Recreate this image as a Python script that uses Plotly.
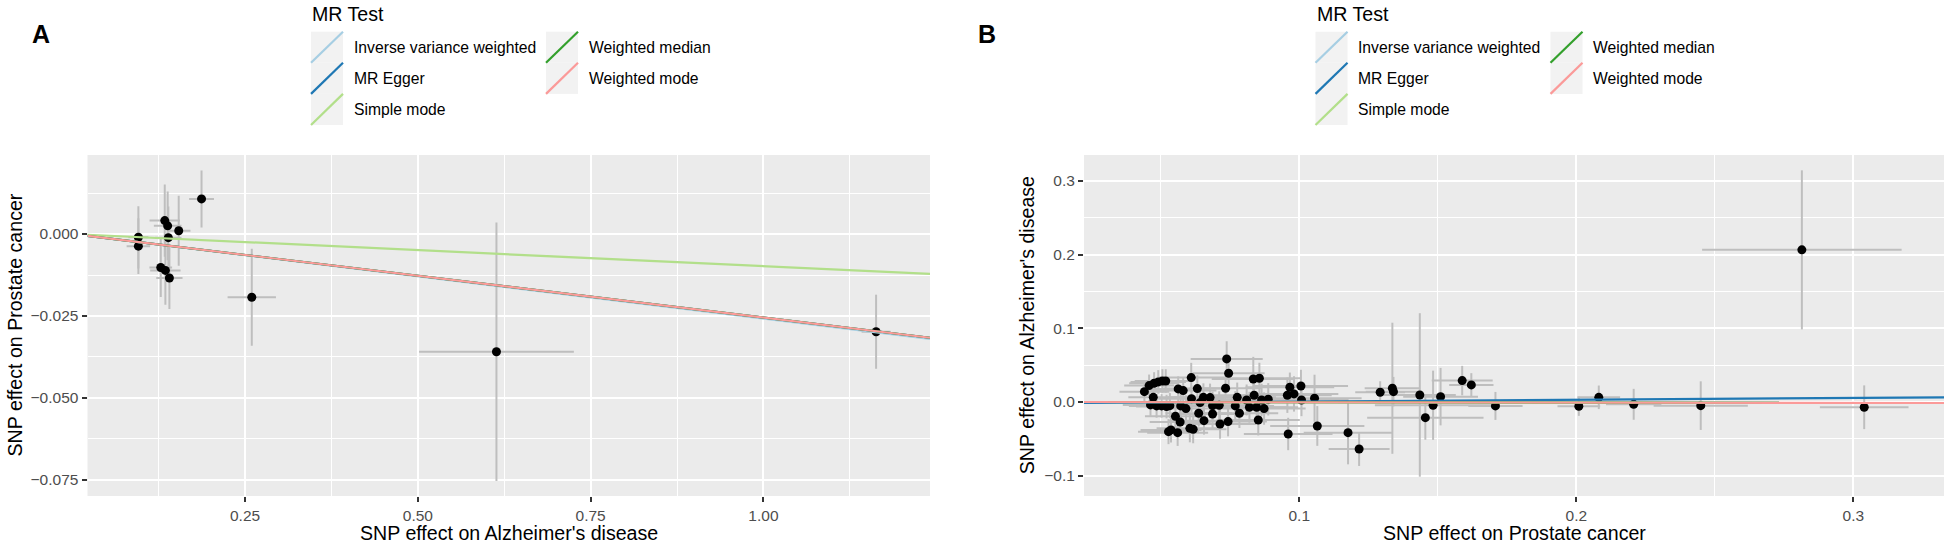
import plotly.graph_objects as go

W, H = 1949, 544

# MR methods (ggplot / TwoSampleMR colours)
methods = ['Inverse variance weighted', 'MR Egger', 'Simple mode', 'Weighted median', 'Weighted mode']
method_colors = ['#a6cee3', '#1f78b4', '#b2df8a', '#33a02c', '#fb9a99']

# Panel A: exposure = Alzheimer's disease, outcome = Prostate cancer
a_beta_exp = [0.0956, 0.0956, 0.1338, 0.1380, 0.1390, 0.1540, 0.1870, 0.1280, 0.1347, 0.1405, 0.2597, 0.6137, 1.1630]
a_beta_out = [-0.0010, -0.0037, 0.0041, 0.0025, -0.0011, 0.0010, 0.0107, -0.0102, -0.0111, -0.0134, -0.0193, -0.0359, -0.0298]
a_se_exp = [0.0145, 0.0170, 0.0220, 0.0200, 0.0190, 0.0170, 0.0180, 0.0164, 0.0220, 0.0190, 0.0350, 0.1120, 0.0210]
a_se_out = [0.0095, 0.0085, 0.0110, 0.0105, 0.0095, 0.0107, 0.0087, 0.0090, 0.0105, 0.0095, 0.0148, 0.0394, 0.0113]
a_intercepts = [0.0, 0.0, 0.0, 0.0, 0.0]
a_slopes = [-0.0258, -0.0255, -0.0098, -0.0255, -0.0255]

# Panel B: exposure = Prostate cancer, outcome = Alzheimer's disease
b_beta_exp = [0.0441, 0.0458, 0.0476, 0.0491, 0.0506, 0.0518, 0.0473, 0.0463, 0.0485, 0.0503,
              0.0521, 0.0533, 0.0528, 0.0537, 0.0553, 0.0561, 0.0570, 0.0563, 0.0581, 0.0572,
              0.0591, 0.0610, 0.0611, 0.0605, 0.0617, 0.0632, 0.0637, 0.0642, 0.0654, 0.0656,
              0.0678, 0.0687, 0.0687, 0.0711, 0.0714, 0.0734, 0.0738, 0.0745, 0.0743, 0.0769,
              0.0776, 0.0784, 0.0810, 0.0820, 0.0834, 0.0837, 0.0846, 0.0856, 0.0852, 0.0864,
              0.0873, 0.0888, 0.0957, 0.0966, 0.0981, 0.0960, 0.1006, 0.1008, 0.1055, 0.1065,
              0.1176, 0.1216, 0.1292, 0.1336, 0.1340, 0.1435, 0.1455, 0.1483, 0.1510, 0.1588,
              0.1621, 0.1708, 0.2009, 0.2081, 0.2207, 0.2449, 0.2814, 0.3039]
b_beta_out = [0.0140, 0.0222, 0.0254, 0.0272, 0.0285, 0.0285, 0.0063, -0.0040, -0.0054, -0.0054,
              -0.0063, -0.0050, -0.0403, -0.0380, -0.0195, -0.0417, -0.0272, 0.0177, 0.0154, -0.0054,
              -0.0090, 0.0331, 0.0045, -0.0358, -0.0371, 0.0181, -0.0154, -0.0009, 0.0063, -0.0254,
              0.0059, -0.0163, -0.0050, -0.0045, -0.0299, 0.0186, 0.0584, 0.0390, -0.0267, -0.0054,
              0.0063, -0.0154, 0.0027, -0.0072, 0.0312, 0.0091, -0.0072, 0.0322, -0.0245, 0.0027,
              -0.0090, 0.0036, 0.0091, 0.0199, 0.0109, -0.0435, 0.0217, 0.0027, 0.0050, -0.0326,
              -0.0417, -0.0639, 0.0131, 0.0186, 0.0140, 0.0095, -0.0213, -0.0045, 0.0072, 0.0290,
              0.0231, -0.0054, -0.0059, 0.0063, -0.0032, -0.0050, 0.2065, -0.0072]
b_se_exp = [0.009, 0.009, 0.009, 0.010, 0.010, 0.010, 0.009, 0.010, 0.010, 0.010,
            0.011, 0.011, 0.011, 0.011, 0.011, 0.011, 0.011, 0.011, 0.012, 0.012,
            0.012, 0.012, 0.012, 0.012, 0.012, 0.012, 0.012, 0.012, 0.013, 0.013,
            0.013, 0.013, 0.013, 0.013, 0.013, 0.013, 0.013, 0.013, 0.014, 0.014,
            0.014, 0.014, 0.014, 0.014, 0.015, 0.015, 0.015, 0.015, 0.015, 0.015,
            0.015, 0.015, 0.016, 0.016, 0.016, 0.016, 0.017, 0.017, 0.017, 0.017,
            0.016, 0.011, 0.009, 0.010, 0.010, 0.013, 0.021, 0.021, 0.0135, 0.011,
            0.008, 0.0098, 0.0077, 0.0077, 0.010, 0.017, 0.036, 0.016]
b_se_out = [0.014, 0.015, 0.015, 0.016, 0.016, 0.016, 0.015, 0.015, 0.016, 0.016,
            0.016, 0.017, 0.017, 0.017, 0.017, 0.018, 0.018, 0.017, 0.018, 0.018,
            0.018, 0.020, 0.018, 0.019, 0.019, 0.018, 0.018, 0.018, 0.019, 0.019,
            0.019, 0.019, 0.019, 0.019, 0.020, 0.020, 0.024, 0.020, 0.020, 0.020,
            0.020, 0.020, 0.021, 0.021, 0.030, 0.021, 0.021, 0.021, 0.021, 0.022,
            0.022, 0.022, 0.024, 0.020, 0.024, 0.022, 0.022, 0.022, 0.032, 0.027,
            0.043, 0.023, 0.015, 0.089, 0.020, 0.111, 0.030, 0.047, 0.039, 0.020,
            0.016, 0.019, 0.013, 0.016, 0.021, 0.033, 0.108, 0.0297]
b_intercepts = [0.0, -0.0020, 0.0, 0.0, 0.0]
b_slopes = [-0.0030, 0.0250, -0.0040, -0.0040, -0.0042]

# axis ranges
a_xrange = [0.022, 1.241]
a_yrange = [-0.0799, 0.0241]
b_xrange = [0.0223, 0.3327]
b_yrange = [-0.1277, 0.3353]

FONT = 'Arial, Liberation Sans, sans-serif'
fig = go.Figure()


# pixel position -> paper coordinate
def px(x):
    return x / W


def py(y):
    return 1 - y / H


def add_panel(xs, ys, sx, sy, intercepts, slopes, xr, xa, ya):
    fig.add_trace(go.Scatter(
        x=xs, y=ys, mode='markers', xaxis=xa, yaxis=ya, showlegend=False,
        marker=dict(color='black', size=9),
        error_x=dict(type='data', array=sx, color='#bebebe', thickness=2, width=0),
        error_y=dict(type='data', array=sy, color='#bebebe', thickness=2, width=0),
    ))
    for m, c, a, b in zip(methods, method_colors, intercepts, slopes):
        fig.add_trace(go.Scatter(
            x=xr, y=[a + b * xr[0], a + b * xr[1]], mode='lines', name=m,
            xaxis=xa, yaxis=ya, showlegend=False, line=dict(color=c, width=2.2),
        ))


add_panel(a_beta_exp, a_beta_out, a_se_exp, a_se_out, a_intercepts, a_slopes, a_xrange, 'x', 'y')
add_panel(b_beta_exp, b_beta_out, b_se_exp, b_se_out, b_intercepts, b_slopes, b_xrange, 'x2', 'y2')

ydom = [py(496), py(155)]
axis_common = dict(showgrid=True, gridcolor='white', gridwidth=2, zeroline=False, showline=False,
                   ticks='outside', ticklen=5, tickwidth=1.8, tickcolor='#333333',
                   tickfont=dict(family=FONT, size=15.5, color='#4d4d4d'))
grid_minor = dict(tick0=0, showgrid=True, gridcolor='white', gridwidth=1, ticklen=0)

fig.update_layout(
    width=W, height=H, margin=dict(l=0, r=0, t=0, b=0),
    paper_bgcolor='white', plot_bgcolor='#ebebeb', showlegend=False,
    xaxis=dict(domain=[px(87.5), px(930)], range=a_xrange, tick0=0, dtick=0.25, tickformat='.2f',
               minor=dict(dtick=0.125, **grid_minor), anchor='y', **axis_common),
    yaxis=dict(domain=ydom, range=a_yrange, tick0=0, dtick=0.025, tickformat='.3f',
               minor=dict(dtick=0.0125, **grid_minor), anchor='x', **axis_common),
    xaxis2=dict(domain=[px(1084), px(1944)], range=b_xrange, tick0=0, dtick=0.1, tickformat='.1f',
                minor=dict(dtick=0.05, **grid_minor), anchor='y2', **axis_common),
    yaxis2=dict(domain=ydom, range=b_yrange, tick0=0, dtick=0.1, tickformat='.1f',
                minor=dict(dtick=0.05, **grid_minor), anchor='x2', **axis_common),
)

annotations = []
shapes = []


def text(x, y, s, size, xanchor='center', yanchor='middle', **kw):
    annotations.append(dict(x=px(x), y=py(y), xref='paper', yref='paper', text=s, showarrow=False,
                            xanchor=xanchor, yanchor=yanchor, borderpad=0,
                            font=dict(family=FONT, size=size, color='black'), **kw))


# panel tags
text(40.6, 34, '<b>A</b>', 25)
text(987, 34, '<b>B</b>', 25)

# axis titles
text(508.75, 532.5, "SNP effect on Alzheimer's disease", 19.6)
text(14, 325.5, 'SNP effect on Prostate cancer', 19.6, textangle=-90)
text(1514, 532.5, 'SNP effect on Prostate cancer', 19.6)
text(1026.7, 325.5, "SNP effect on Alzheimer's disease", 19.6, textangle=-90)


# ggplot style legend drawn above each panel
def add_legend(left):
    text(left, 14, 'MR Test', 19.6, xanchor='left')
    key_w, key_h, top = 32, 31.1, 31.7
    for i, (m, c) in enumerate(zip(methods, method_colors)):
        col, row = (0, i) if i < 3 else (1, i - 3)
        kx = left + col * 235
        ky = top + row * key_h
        shapes.append(dict(type='rect', xref='paper', yref='paper', x0=px(kx), x1=px(kx + key_w),
                           y0=py(ky + key_h), y1=py(ky), fillcolor='#f2f2f2', line=dict(width=0), layer='below'))
        shapes.append(dict(type='line', xref='paper', yref='paper', x0=px(kx), x1=px(kx + key_w),
                           y0=py(ky + key_h), y1=py(ky), line=dict(color=c, width=2.2)))
        text(kx + 41.5, ky + key_h / 2, m, 15.7, xanchor='left')


add_legend(311)
add_legend(1315.5)

fig.update_layout(annotations=annotations, shapes=shapes)
# drop the browser's default 8px page margin so the figure fills the window exactly
fig.write_html('out.html', config={'displayModeBar': False},
               post_script="document.body.style.margin = '0px';")
